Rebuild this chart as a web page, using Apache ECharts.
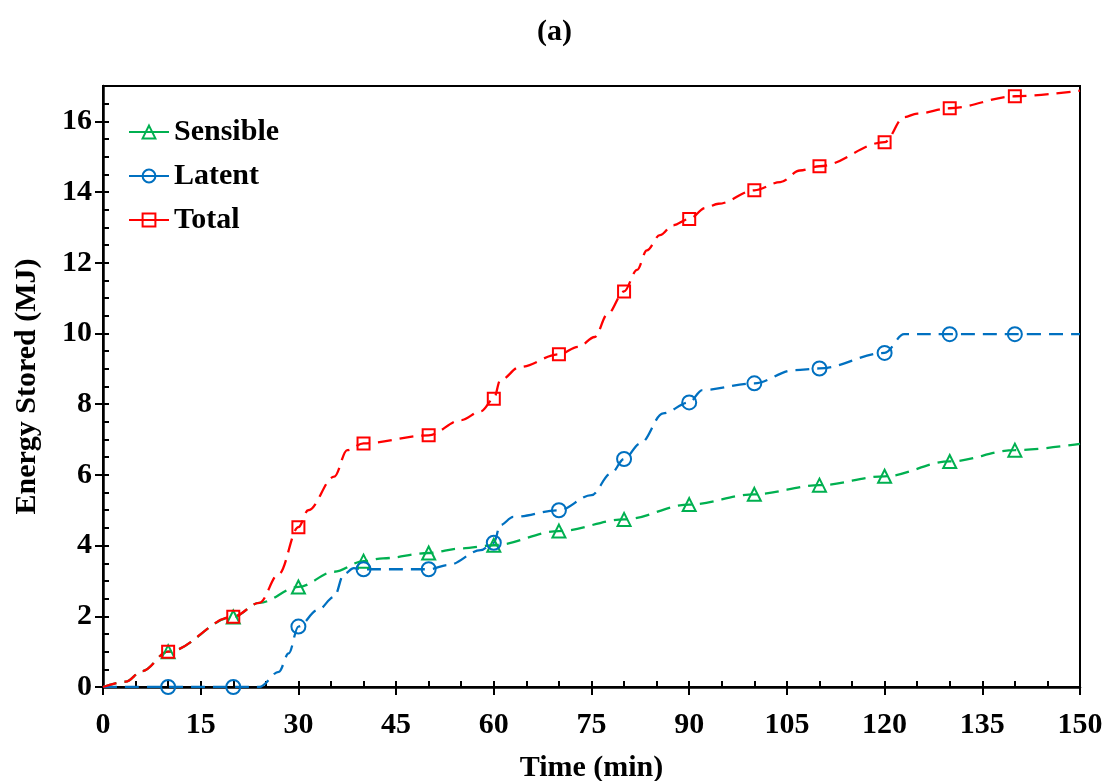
<!DOCTYPE html>
<html>
<head>
<meta charset="utf-8">
<script src="https://cdn.jsdelivr.net/npm/echarts@6/dist/echarts.min.js"></script>
<style>html,body{margin:0;padding:0;background:#fff}#c{width:1109px;height:781px}</style>
</head>
<body>
<div id="c"></div>
<script>
// ---- data (time in min, energy in MJ) ----
const sensibleT = [0, 3.5, 6, 10, 20, 24, 30, 35.5, 40, 43, 50, 55, 60, 70, 80, 90, 100, 110, 120, 130, 140, 150];
const sensibleV = [0, 0.15, 0.45, 1.0, 1.98, 2.38, 2.83, 3.26, 3.56, 3.64, 3.79, 3.92, 4.01, 4.41, 4.74, 5.16, 5.45, 5.71, 5.96, 6.38, 6.70, 6.88];

const latentT = [0, 10, 20, 24, 27, 28.5, 30, 33, 35.5, 37, 38.5, 40, 50, 53, 58, 60, 61, 63, 70, 75, 78, 80, 82.5, 86, 90, 92, 100, 106, 110, 120, 123, 130, 140, 150];
const latentV = [0, 0, 0, 0, 0.43, 0.95, 1.71, 2.18, 2.55, 3.2, 3.36, 3.33, 3.33, 3.45, 3.87, 4.08, 4.58, 4.81, 5.0, 5.43, 6.04, 6.45, 6.89, 7.74, 8.05, 8.4, 8.59, 8.96, 9.01, 9.45, 9.98, 9.98, 9.98, 9.98];

const totalT = [0, 3.5, 6, 10, 20, 24, 27, 30, 31.5, 35.5, 37.5, 40, 50, 55, 58, 60, 61, 64, 70, 73, 75.5, 77.5, 80, 82, 83.5, 85.5, 87.5, 90, 92.5, 94.5, 100, 104, 107, 110, 120, 123, 125, 130, 140, 150];
const totalV = [0, 0.15, 0.45, 1.0, 1.99, 2.38, 3.2, 4.52, 5.0, 5.95, 6.7, 6.89, 7.12, 7.55, 7.8, 8.15, 8.68, 9.05, 9.41, 9.62, 9.9, 10.56, 11.19, 11.8, 12.35, 12.78, 13.06, 13.24, 13.55, 13.67, 14.05, 14.28, 14.61, 14.73, 15.41, 16.12, 16.22, 16.37, 16.71, 16.87];

const markerTimes = [10, 20, 30, 40, 50, 60, 70, 80, 90, 100, 110, 120, 130, 140];
const seriesNames = ['Sensible', 'Latent', 'Total'];
const xTicks = {min: 0, max: 150, step: 15, minor: 5};
const yTicks = {min: 0, max: 17, step: 2, minor: 0.5};

const FONT = 'Liberation Serif';

function build(ts, vs) {
  return ts.map((t, i) => {
    const item = {value: [t, vs[i]]};
    if (markerTimes.indexOf(t) < 0) item.symbol = 'none';
    return item;
  });
}

function mkSeries(name, ts, vs, color, symbol, size) {
  return {
    name: name,
    type: 'line',
    xAxisIndex: 0, yAxisIndex: 0,
    smooth: 0.35,
    smoothMonotone: 'x',
    symbol: symbol,
    symbolSize: size,
    showAllSymbol: true,
    lineStyle: {color: color, width: 2.3, type: [14, 8]},
    itemStyle: {color: 'rgba(255,255,255,0)', borderColor: color, borderWidth: 2},
    emphasis: {disabled: true},
    data: build(ts, vs),
    z: 3
  };
}

const chart = echarts.init(document.getElementById('c'), null, {renderer: 'canvas'});
const axisLab = {fontFamily: FONT, fontWeight: 'bold', fontSize: 30, color: '#000'};
const nameStyle = {fontFamily: FONT, fontWeight: 'bold', fontSize: 30, color: '#000'};

chart.setOption({
  animation: false,
  backgroundColor: '#fff',
  title: {
    text: '(a)', left: 'center', top: 12,
    textStyle: {fontFamily: FONT, fontWeight: 'bold', fontSize: 30, color: '#000'}
  },
  legend: {
    orient: 'vertical', left: 123, top: 112,
    itemWidth: 40, itemHeight: 16, itemGap: 14,
    lineStyle: {type: 'solid', width: 2},
    textStyle: {fontFamily: FONT, fontWeight: 'bold', fontSize: 30, color: '#000'},
    data: seriesNames
  },
  grid: {left: 103, right: 29, top: 86, bottom: 94, outerBoundsMode: 'none', containLabel: false,
    show: true, borderColor: '#000', borderWidth: 2, backgroundColor: 'transparent'},
  xAxis: [{
    type: 'value', min: xTicks.min, max: xTicks.max, interval: xTicks.step,
    name: 'Time (min)', nameLocation: 'middle', nameGap: 66,
    nameTextStyle: nameStyle,
    axisLine: {show: true, onZero: false, lineStyle: {color: '#000', width: 2.5}},
    axisTick: {show: true, inside: false, length: 8, lineStyle: {color: '#000', width: 2}},
    axisLabel: Object.assign({margin: 23}, axisLab),
    splitLine: {show: false}
  }, {
    type: 'value', min: xTicks.min, max: xTicks.max, interval: xTicks.minor, position: 'bottom',
    axisLine: {show: false},
    axisTick: {show: true, inside: true, length: 6, lineStyle: {color: '#000', width: 2}},
    axisLabel: {show: false}, splitLine: {show: false}
  }],
  yAxis: [{
    type: 'value', min: yTicks.min, max: yTicks.max, interval: yTicks.step,
    name: 'Energy Stored (MJ)', nameLocation: 'middle', nameGap: 61,
    nameTextStyle: nameStyle,
    axisLine: {show: true, onZero: false, lineStyle: {color: '#000', width: 2.5}},
    axisTick: {show: true, inside: false, length: 8, lineStyle: {color: '#000', width: 2}},
    axisLabel: Object.assign({margin: 11, showMaxLabel: false,
      formatter: v => (v % yTicks.step === 0 ? String(v) : '')}, axisLab),
    splitLine: {show: false}
  }, {
    type: 'value', min: yTicks.min, max: yTicks.max, interval: yTicks.minor, position: 'left',
    axisLine: {show: false},
    axisTick: {show: true, inside: true, length: 6, lineStyle: {color: '#000', width: 2}},
    axisLabel: {show: false}, splitLine: {show: false}
  }],
  series: [
    mkSeries(seriesNames[0], sensibleT, sensibleV, '#00B050', 'triangle', 13),
    mkSeries(seriesNames[1], latentT, latentV, '#0070C0', 'circle', 14),
    mkSeries(seriesNames[2], totalT, totalV, '#FF0000', 'rect', 12)
  ]
});
</script>
</body>
</html>
